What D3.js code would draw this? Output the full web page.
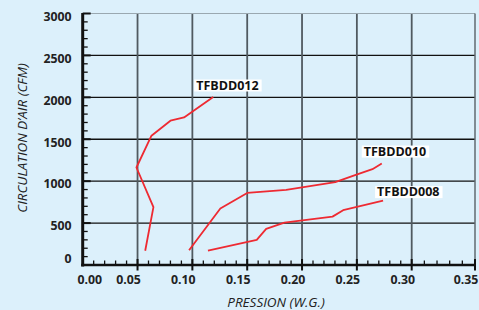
<!DOCTYPE html>
<html>
<head>
<meta charset="utf-8">
<script src="https://cdn.jsdelivr.net/npm/d3@7"></script>
<style>
  html, body { margin: 0; padding: 0; background: #dcf0fb; }
  svg { display: block; font-family: "Open Sans", "Noto Sans", sans-serif; }
</style>
</head>
<body>
<svg id="chart"></svg>
<script>
var w = 479, h = 310;

// tick values
var xTicks = [0, 0.05, 0.10, 0.15, 0.20, 0.25, 0.30, 0.35];
var yTicks = [0, 500, 1000, 1500, 2000, 2500, 3000];

// series (pressure in W.G., airflow in CFM)
var seriesNames = ["TFBDD012", "TFBDD010", "TFBDD008"];
var p012 = [0.057, 0.0645, 0.049, 0.0627, 0.080, 0.0924, 0.119];
var c012 = [170, 690, 1163, 1542, 1721, 1760, 2004];
var p010 = [0.097, 0.1255, 0.150, 0.1855, 0.2303, 0.249, 0.2642, 0.2727];
var c010 = [176, 673, 860, 896, 988, 1076, 1143, 1210];
var p008 = [0.1142, 0.1587, 0.1673, 0.1839, 0.2278, 0.2375, 0.2739];
var c008 = [171, 299, 430, 506, 577, 654, 768];

var series = [
  { name: seriesNames[0], p: p012, c: c012 },
  { name: seriesNames[1], p: p010, c: c010 },
  { name: seriesNames[2], p: p008, c: c008 }
];

// where each name sits relative to the curve end (px)
var labelOffset = { "TFBDD012": [-17, -11.5], "TFBDD010": [-18, -12], "TFBDD008": [-6, -8.5] };

var svg = d3.select("#chart").attr("width", w).attr("height", h);

svg.append("rect").attr("width", w).attr("height", h).attr("fill", "#dcf0fb");

// the last segment of the original axis is stretched, so use a polylinear scale
var x = d3.scaleLinear().domain([0, 0.30, 0.35]).range([82.7, 411.7, 475]);
var y = d3.scaleLinear().domain([0, 3000]).range([265, 13.5]);

// horizontal grid
svg.append("g")
  .selectAll("line")
  .data(yTicks.filter(d => d > 0 && d < 3000))
  .enter().append("line")
  .attr("x1", x(0)).attr("x2", x(0.35))
  .attr("y1", d => y(d)).attr("y2", d => y(d))
  .attr("stroke", "#111").attr("stroke-width", 1.3);

// vertical grid
svg.append("g")
  .selectAll("line")
  .data(xTicks.filter(d => d > 0 && d < 0.35))
  .enter().append("line")
  .attr("x1", d => x(d)).attr("x2", d => x(d))
  .attr("y1", y(3000)).attr("y2", y(0))
  .attr("stroke", "#505a60").attr("stroke-width", 1.8);

// top / right border
svg.append("line")
  .attr("x1", x(0)).attr("x2", x(0.35))
  .attr("y1", y(3000)).attr("y2", y(3000))
  .attr("stroke", "#9aa8b0").attr("stroke-width", 1.2);
svg.append("line")
  .attr("x1", x(0.35)).attr("x2", x(0.35))
  .attr("y1", y(3000)).attr("y2", y(0))
  .attr("stroke", "#606a70").attr("stroke-width", 1.5);

// minor ticks
var yMinor = d3.range(0, 3001, 100).filter(d => d % 500 !== 0);
var xMinor = d3.range(0, 36, 1).map(d => d / 100).filter(d => Math.round(d * 100) % 5 !== 0);

svg.append("g")
  .selectAll("line")
  .data(yMinor)
  .enter().append("line")
  .attr("x1", x(0)).attr("x2", x(0) + 5)
  .attr("y1", d => y(d)).attr("y2", d => y(d))
  .attr("stroke", "#111").attr("stroke-width", 1.3);

svg.append("g")
  .selectAll("line")
  .data(xMinor)
  .enter().append("line")
  .attr("x1", d => x(d)).attr("x2", d => x(d))
  .attr("y1", y(0)).attr("y2", y(0) - 4.5)
  .attr("stroke", "#111").attr("stroke-width", 1.3);

// major ticks
svg.append("g")
  .selectAll("line")
  .data(yTicks.filter(d => d > 0))
  .enter().append("line")
  .attr("x1", x(0)).attr("x2", x(0) + 8)
  .attr("y1", d => y(d)).attr("y2", d => y(d))
  .attr("stroke", "#111").attr("stroke-width", 2);

svg.append("g")
  .selectAll("line")
  .data(xTicks.filter(d => d > 0))
  .enter().append("line")
  .attr("x1", d => x(d)).attr("x2", d => x(d))
  .attr("y1", y(0) - 6).attr("y2", y(0) + 5.5)
  .attr("stroke", "#111").attr("stroke-width", 2);

// axis lines
svg.append("line")
  .attr("x1", x(0)).attr("x2", x(0))
  .attr("y1", y(3000) - 0.5).attr("y2", y(0) + 1.5)
  .attr("stroke", "#111").attr("stroke-width", 3);
svg.append("line")
  .attr("x1", x(0) - 1.5).attr("x2", x(0.35) + 1)
  .attr("y1", y(0)).attr("y2", y(0))
  .attr("stroke", "#111").attr("stroke-width", 2.6);

// tick labels
svg.append("g")
  .selectAll("text")
  .data(yTicks)
  .enter().append("text")
  .attr("x", 71.5)
  .attr("y", d => y(d) + (d === 0 ? -6 : 3))
  .attr("dy", "0.35em")
  .attr("text-anchor", "end")
  .attr("font-size", 12.3).attr("font-weight", "bold").attr("fill", "#222")
  .text(d => d);

svg.append("g")
  .selectAll("text")
  .data(xTicks)
  .enter().append("text")
  .attr("x", d => x(d) + (d === 0 ? 7 : -9))
  .attr("y", 279.5)
  .attr("dy", "0.35em")
  .attr("text-anchor", "middle")
  .attr("font-size", 12.3).attr("font-weight", "bold").attr("fill", "#222")
  .text(d => d.toFixed(2));

// axis titles
svg.append("text")
  .attr("transform", "translate(26.5,138) rotate(-90)")
  .attr("text-anchor", "middle")
  .attr("font-size", 13.4).attr("font-style", "italic").attr("fill", "#222")
  .text("CIRCULATION D\u2019AIR (CFM)");

svg.append("text")
  .attr("x", 276).attr("y", 306.5)
  .attr("text-anchor", "middle")
  .attr("font-size", 13.5).attr("font-style", "italic").attr("fill", "#222")
  .text("PRESSION (W.G.)");

// curves
var line = d3.line().x(d => x(d[0])).y(d => y(d[1]));

series.forEach(function(s) {
  var pts = s.p.map((v, i) => [v, s.c[i]]);
  svg.append("path")
    .attr("d", line(pts))
    .attr("fill", "none")
    .attr("stroke", "#ee2a32")
    .attr("stroke-width", 1.8)
    .attr("stroke-linejoin", "round");

  var end = pts[pts.length - 1];
  var off = labelOffset[s.name];
  var g = svg.append("g")
    .attr("transform", "translate(" + (x(end[0]) + off[0]) + "," + (y(end[1]) + off[1]) + ")");
  var t = g.append("text")
    .attr("dy", "0.35em")
    .attr("font-size", 12.5).attr("font-weight", "bold").attr("fill", "#111")
    .text(s.name);
  var bb = t.node().getBBox();
  g.insert("rect", "text")
    .attr("x", bb.x - 2).attr("y", -6)
    .attr("width", bb.width + 5).attr("height", 12)
    .attr("fill", "#fff");
});
</script>
</body>
</html>
